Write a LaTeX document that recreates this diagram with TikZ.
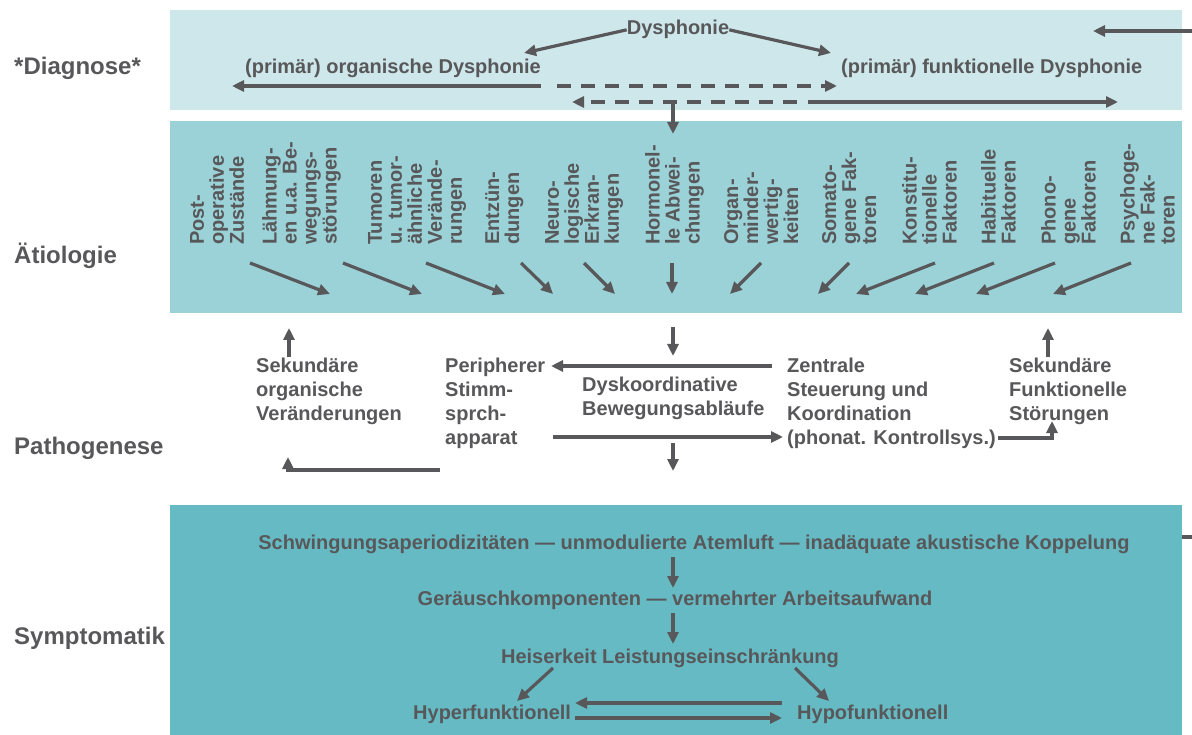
\documentclass[tikz,border=0pt]{standalone}
\usepackage{fontspec}
\setmainfont{Liberation Sans}
\usetikzlibrary{arrows.meta}
\definecolor{ink}{HTML}{58585A}
\definecolor{diagbg}{HTML}{CEE7EA}
\definecolor{aetbg}{HTML}{9BD2D7}
\definecolor{symbg}{HTML}{66BAC3}

\begin{document}
\begin{tikzpicture}[x=1pt,y=-1pt,
  txt/.style={inner sep=0pt, text=ink, font=\bfseries\fontsize{20}{24}\selectfont},
  para/.style={txt, anchor=north west, align=left},
  lbl/.style={inner sep=0pt, text=ink, font=\bfseries\fontsize{24}{28}\selectfont, anchor=base west},
  col/.style={inner sep=0pt, text=ink, rotate=90, anchor=north west, align=left,
              font=\bfseries\fontsize{20}{20}\selectfont},
  ln/.style={draw=ink, line width=3.2pt},
  arr/.style={ln, -{Triangle[length=12pt,width=11pt]}},
  dsh/.style={arr, dash pattern=on 14pt off 10pt}
]
% canvas
\fill[white] (0,0) rectangle (1192,735);
\useasboundingbox (0,0) rectangle (1192,735);

% bands
\fill[diagbg] (170,10) rectangle (1182,110);
\fill[aetbg] (170,121) rectangle (1182,313);
\fill[symbg] (170,505) rectangle (1182,735);

% row labels
\node[lbl] (lDiag) at (14,75) {*Diagnose*};
\node[lbl] (lAet) at (14,264) {Ätiologie};
\node[lbl] (lPath) at (14,454) {Pathogenese};
\node[lbl] (lSym) at (14,644) {Symptomatik};

% ---------------- Diagnose
\node[txt, anchor=base] (dys) at (678,35) {Dysphonie};
\node[txt, anchor=base west] (org) at (245,74) {(primär) organische Dysphonie};
\node[txt, anchor=base west] (fkt) at (841,74) {(primär) funktionelle Dysphonie};
\coordinate (dL) at (524,53);
\coordinate (dR) at (831,53);
\draw[arr] (dys.west) -- (dL);
\draw[arr] (dys.east) -- (dR);

\coordinate (u0) at (232,86);
\coordinate (u1) at (541,86);
\coordinate (u2) at (557,86);
\coordinate (u3) at (837,86);
\draw[arr] (u1) -- (u0);
\draw[dsh] (u2) -- (u3);

\coordinate (w0) at (572,102);
\coordinate (w1) at (797,102);
\coordinate (w2) at (808,102);
\coordinate (w3) at (1118,102);
\draw[dsh] (w1) -- (w0);
\draw[arr] (w2) -- (w3);

\coordinate (dn0) at (673,102);
\coordinate (dn1) at (673,134);
\draw[arr] (dn0) -- (dn1);

\coordinate (in0) at (1192,31);
\coordinate (in1) at (1093,31);
\draw[arr] (in0) -- (in1);

% ---------------- Ätiologie
\node[col] (c1) at (190,245) {Post-\\operative\\Zustände};
\node[col] (c2) at (262,245) {Lähmung-\\en u.a. Be-\\wegungs-\\störungen};
\node[col] (c3) at (368,245) {Tumoren\\u. tumor-\\ähnliche\\Verände-\\rungen};
\node[col] (c4) at (485,245) {Entzün-\\dungen};
\node[col] (c5) at (545,245) {Neuro-\\logische\\Erkran-\\kungen};
\node[col] (c6) at (645,245) {Hormonel-\\le Abwei-\\chungen};
\node[col] (c7) at (724,245) {Organ-\\minder-\\wertig-\\keiten};
\node[col] (c8) at (822,245) {Somato-\\gene Fak-\\toren};
\node[col] (c9) at (902,245) {Konstitu-\\tionelle\\Faktoren};
\node[col] (c10) at (981,245) {Habituelle\\Faktoren};
\node[col] (c11) at (1041,245) {Phono-\\gene\\Faktoren};
\node[col] (c12) at (1120,245) {Psychoge-\\ne Fak-\\toren};

\foreach \sx/\ex [count=\i] in {250/330, 343/422, 426/505, 521/553, 584/615, 672/672,
                                761/730, 849/818, 935/856, 994/915, 1055/976, 1131/1053} {
  \coordinate (f\i a) at (\sx,263);
  \coordinate (f\i b) at (\ex,294);
  \draw[arr] (f\i a) -- (f\i b);
}

% ---------------- Pathogenese
\node[para] (sekO) at (256,357.4) {Sekundäre\\organische\\Veränderungen};
\node[para] (peri) at (445,357.4) {Peripherer\\Stimm-\\sprch-\\apparat};
\node[para] (dysk) at (582,376.4) {Dyskoordinative\\Bewegungsabläufe};
\node[para] (zent) at (787,357.4) {Zentrale\\Steuerung und\\Koordination\\(phonat. Kontrollsys.)};
\node[para] (sekF) at (1009,357.4) {Sekundäre\\Funktionelle\\Störungen};

\coordinate (p1a) at (673,327);
\coordinate (p1b) at (673,356);
\draw[arr] (p1a) -- (p1b);
\coordinate (p2a) at (673,443);
\coordinate (p2b) at (673,471);
\draw[arr] (p2a) -- (p2b);

\coordinate (so0) at (289,357);
\coordinate (so1) at (289,328);
\draw[arr] (so0) -- (so1);
\coordinate (sf0) at (1048,357);
\coordinate (sf1) at (1048,328);
\draw[arr] (sf0) -- (sf1);

\coordinate (z0) at (772,366);
\coordinate (z1) at (551,366);
\draw[arr] (z0) -- (z1);
\coordinate (q0) at (553,437);
\coordinate (q1) at (783,437);
\draw[arr] (q0) -- (q1);

\coordinate (e0) at (998,438);
\coordinate (e1) at (1052,421);
\draw[arr] (e0) -| (e1);
\coordinate (g0) at (440,470);
\coordinate (g1) at (288,457);
\draw[arr] (g0) -| (g1);

% ---------------- Symptomatik
\node[txt, anchor=base] (s1) at (694,549) {Schwingungsaperiodizitäten — unmodulierte Atemluft — inadäquate akustische Koppelung};
\node[txt, anchor=base] (s2) at (675,605) {Geräuschkomponenten — vermehrter Arbeitsaufwand};
\node[txt, anchor=base] (s3) at (670,663) {Heiserkeit Leistungseinschränkung};
\node[txt, anchor=base west] (hyper) at (413,719) {Hyperfunktionell};
\node[txt, anchor=base west] (hypo) at (797,719) {Hypofunktionell};

\coordinate (t1a) at (673,557);
\coordinate (t1b) at (673,588);
\draw[arr] (t1a) -- (t1b);
\coordinate (t2a) at (673,613);
\coordinate (t2b) at (673,644);
\draw[arr] (t2a) -- (t2b);
\coordinate (h1a) at (553,668);
\coordinate (h1b) at (517,701);
\draw[arr] (h1a) -- (h1b);
\coordinate (h2a) at (795,668);
\coordinate (h2b) at (829,701);
\draw[arr] (h2a) -- (h2b);
\coordinate (k0) at (782,703);
\coordinate (k1) at (575,703);
\draw[arr] (k0) -- (k1);
\coordinate (k2) at (575,718);
\coordinate (k3) at (782,718);
\draw[arr] (k2) -- (k3);

\coordinate (st0) at (1182,537);
\coordinate (st1) at (1192,537);
\draw[ln] (st0) -- (st1);
\end{tikzpicture}
\end{document}
